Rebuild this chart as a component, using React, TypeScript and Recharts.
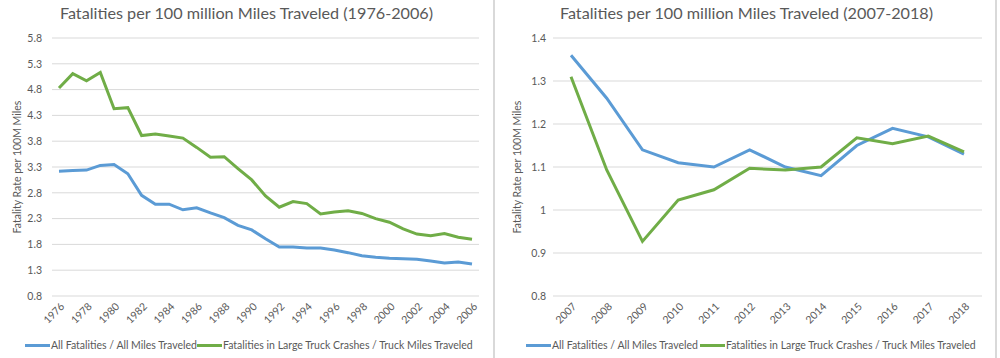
import React from "react"
import { CartesianGrid, Line, LineChart, XAxis, YAxis } from "recharts"

// 1976-2006 panel
const yearsEarly = [
  "1976", "1977", "1978", "1979", "1980", "1981", "1982", "1983", "1984", "1985",
  "1986", "1987", "1988", "1989", "1990", "1991", "1992", "1993", "1994", "1995",
  "1996", "1997", "1998", "1999", "2000", "2001", "2002", "2003", "2004", "2005", "2006",
]
const allEarly = [
  3.22, 3.23, 3.24, 3.33, 3.35, 3.17, 2.75, 2.58, 2.58, 2.47,
  2.51, 2.41, 2.32, 2.17, 2.08, 1.91, 1.75, 1.75, 1.73, 1.73,
  1.69, 1.64, 1.58, 1.55, 1.53, 1.52, 1.51, 1.48, 1.44, 1.46, 1.42,
]
const truckEarly = [
  4.83, 5.11, 4.97, 5.13, 4.43, 4.45, 3.91, 3.94, 3.9, 3.86,
  3.68, 3.49, 3.5, 3.27, 3.05, 2.74, 2.52, 2.63, 2.59, 2.39,
  2.43, 2.45, 2.4, 2.3, 2.23, 2.1, 2.0, 1.97, 2.01, 1.94, 1.9,
]
const ticksEarly = [0.8, 1.3, 1.8, 2.3, 2.8, 3.3, 3.8, 4.3, 4.8, 5.3, 5.8]

// 2007-2018 panel
const yearsLate = ["2007", "2008", "2009", "2010", "2011", "2012", "2013", "2014", "2015", "2016", "2017", "2018"]
const allLate = [1.36, 1.26, 1.14, 1.11, 1.1, 1.14, 1.1, 1.08, 1.15, 1.19, 1.17, 1.13]
const truckLate = [1.31, 1.093, 0.927, 1.023, 1.047, 1.097, 1.093, 1.1, 1.168, 1.154, 1.172, 1.135]
const ticksLate = [0.8, 0.9, 1, 1.1, 1.2, 1.3, 1.4]

const seriesNames = ["All Fatalities / All Miles Traveled", "Fatalities in Large Truck Crashes / Truck Miles Traveled"]
const yTitle = "Fatality Rate per 100M Miles"

const BLUE = "#5B9BD5"
const GREEN = "#70AD47"
const TEXT = "#595959"
const GRID = "#D9D9D9"
const FONT = "Lato, 'Noto Sans', sans-serif"

const dataEarly = yearsEarly.map((year, i) => ({ year, all: allEarly[i], truck: truckEarly[i] }))
const dataLate = yearsLate.map((year, i) => ({ year, all: allLate[i], truck: truckLate[i] }))

const YearTick = (props: any) => {
  const { x, y, payload } = props
  return (
    <g transform={`translate(${x + 4},${y + 1})`}>
      <text x={0} y={0} dy={3} textAnchor="end" transform="rotate(-45)" fill={TEXT} fontSize={10.5} fontFamily={FONT}>
        {payload.value}
      </text>
    </g>
  )
}

const yLabel = (labelX: number) => ({
  content: (props: any) => {
    const vb = props.viewBox || {}
    const cy = (vb.y || 0) + (vb.height || 0) / 2
    return (
      <text
        x={labelX}
        y={cy}
        textAnchor="middle"
        transform={`rotate(-90, ${labelX}, ${cy})`}
        fill={TEXT}
        fontSize={10.5}
        fontFamily={FONT}
      >
        {yTitle}
      </text>
    )
  },
})

function LegendRow({ blueX, greenX }: { blueX: number; greenX: number }) {
  const item = (color: string, x: number, name: string) => (
    <div style={{ position: "absolute", left: x, top: 339, display: "flex", alignItems: "center", whiteSpace: "nowrap" }}>
      <span style={{ display: "inline-block", width: 25, height: 3, background: color }} />
      <span style={{ fontSize: 10.5, color: TEXT, fontFamily: FONT, marginLeft: 1 }}>{name}</span>
    </div>
  )
  return (
    <>
      {item(BLUE, blueX, seriesNames[0])}
      {item(GREEN, greenX, seriesNames[1])}
    </>
  )
}

function Panel(props: {
  left: number
  width: number
  title: string
  data: any[]
  ticks: number[]
  axisWidth: number
  tickMargin: number
  padding: number
  interval: number
  labelX: number
  legend: { blueX: number; greenX: number }
}) {
  const { left, width, title, data, ticks, axisWidth, tickMargin, padding, interval, labelX, legend } = props
  return (
    <div style={{ position: "absolute", left, top: 0, width, height: 358 }}>
      <div
        style={{
          position: "absolute",
          left: 0,
          width,
          top: 3,
          textAlign: "center",
          fontSize: 16.2,
          color: TEXT,
          fontFamily: FONT,
          whiteSpace: "nowrap",
        }}
      >
        {title}
      </div>
      <LineChart width={width} height={358} data={data} margin={{ top: 38, right: 14, left: 0, bottom: 22 }}>
        <CartesianGrid vertical={false} stroke={GRID} strokeWidth={1} />
        <XAxis
          dataKey="year"
          axisLine={false}
          tickLine={false}
          height={40}
          interval={interval}
          padding={{ left: padding, right: padding }}
          tick={<YearTick />}
        />
        <YAxis
          width={axisWidth}
          domain={[ticks[0], ticks[ticks.length - 1]]}
          ticks={ticks}
          axisLine={false}
          tickLine={false}
          tickMargin={tickMargin}
          tick={{ fill: TEXT, fontSize: 10.5, fontFamily: FONT }}
          label={yLabel(labelX)}
        />
        <Line dataKey="all" stroke={BLUE} strokeWidth={3} dot={false} isAnimationActive={false} />
        <Line dataKey="truck" stroke={GREEN} strokeWidth={3} dot={false} isAnimationActive={false} />
      </LineChart>
      <LegendRow blueX={legend.blueX} greenX={legend.greenX} />
    </div>
  )
}

export default function App() {
  return (
    <div style={{ position: "absolute", left: 0, top: 0, width: 1000, height: 358, background: "#fff", overflow: "hidden" }}>
      <Panel
        left={0}
        width={493}
        title="Fatalities per 100 million Miles Traveled (1976-2006)"
        data={dataEarly}
        ticks={ticksEarly}
        axisWidth={52}
        tickMargin={4}
        padding={7}
        interval={1}
        labelX={21}
        legend={{ blueX: 25, greenX: 197 }}
      />
      <div style={{ position: "absolute", left: 493, top: 0, width: 2, height: 358, background: GRID }} />
      <Panel
        left={497}
        width={499}
        title="Fatalities per 100 million Miles Traveled (2007-2018)"
        data={dataLate}
        ticks={ticksLate}
        axisWidth={56}
        tickMargin={1}
        padding={18}
        interval={0}
        labelX={24}
        legend={{ blueX: 29, greenX: 203 }}
      />
      <div style={{ position: "absolute", left: 995, top: 0, width: 2, height: 358, background: GRID }} />
    </div>
  )
}
